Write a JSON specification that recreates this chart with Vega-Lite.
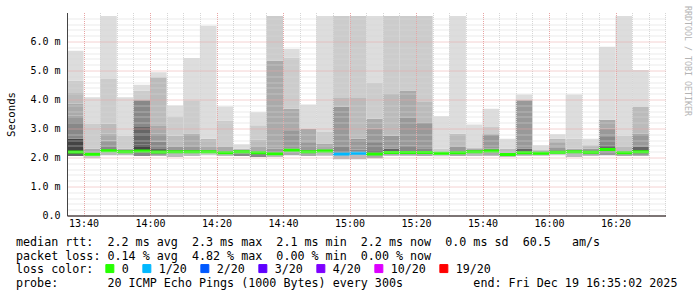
{
  "$schema": "https://vega.github.io/schema/vega-lite/v6.json",
  "width": 598.5,
  "height": 203,
  "autosize": {"type": "none"},
  "padding": {"left": 67, "top": 12.5, "right": 31.5, "bottom": 81.5},
  "background": "white",
  "config": {"view": {"stroke": null}},
  "title": {
    "text": [
      "median\u00a0rtt:\u00a0\u00a02.2\u00a0ms\u00a0avg\u00a0\u00a02.3\u00a0ms\u00a0max\u00a0\u00a02.1\u00a0ms\u00a0min\u00a0\u00a02.2\u00a0ms\u00a0now\u00a0\u00a00.0\u00a0ms\u00a0sd\u00a0\u00a060.5\u00a0\u00a0\u00a0am/s",
      "packet\u00a0loss:\u00a00.14\u00a0%\u00a0avg\u00a0\u00a04.82\u00a0%\u00a0max\u00a0\u00a00.00\u00a0%\u00a0min\u00a0\u00a00.00\u00a0%\u00a0now"
    ],
    "subtitle": "probe:\u00a0\u00a0\u00a0\u00a0\u00a0\u00a0\u00a020\u00a0ICMP\u00a0Echo\u00a0Pings\u00a0(1000\u00a0Bytes)\u00a0every\u00a0300s\u00a0\u00a0\u00a0\u00a0\u00a0\u00a0\u00a0\u00a0\u00a0\u00a0end:\u00a0Fri\u00a0Dec\u00a019\u00a016:35:02\u00a02025",
    "orient": "bottom",
    "anchor": "start",
    "frame": "group",
    "dx": -51,
    "dy": -43,
    "offset": 4,
    "font": "DejaVu Sans Mono",
    "fontSize": 11.7,
    "fontWeight": "normal",
    "lineHeight": 14,
    "color": "#000000",
    "subtitleFont": "DejaVu Sans Mono",
    "subtitleFontSize": 11.7,
    "subtitleFontWeight": "normal",
    "subtitleColor": "#000000",
    "subtitlePadding": 16
  },
  "datasets": {
    "bands": [
      {"t":"2025-12-19T13:35","te":"2025-12-19T13:40","lo":2.05,"hi":2.19,"s":7},
      {"t":"2025-12-19T13:35","te":"2025-12-19T13:40","lo":2.19,"hi":2.65,"s":8},
      {"t":"2025-12-19T13:35","te":"2025-12-19T13:40","lo":2.65,"hi":3.22,"s":6},
      {"t":"2025-12-19T13:35","te":"2025-12-19T13:40","lo":3.22,"hi":3.45,"s":5},
      {"t":"2025-12-19T13:35","te":"2025-12-19T13:40","lo":3.45,"hi":3.85,"s":4},
      {"t":"2025-12-19T13:35","te":"2025-12-19T13:40","lo":3.85,"hi":4.25,"s":3},
      {"t":"2025-12-19T13:35","te":"2025-12-19T13:40","lo":4.25,"hi":4.65,"s":2},
      {"t":"2025-12-19T13:35","te":"2025-12-19T13:40","lo":4.65,"hi":5.68,"s":1},
      {"t":"2025-12-19T13:40","te":"2025-12-19T13:45","lo":1.97,"hi":2.11,"s":2},
      {"t":"2025-12-19T13:40","te":"2025-12-19T13:45","lo":2.11,"hi":2.3,"s":4},
      {"t":"2025-12-19T13:40","te":"2025-12-19T13:45","lo":2.3,"hi":3.17,"s":2},
      {"t":"2025-12-19T13:40","te":"2025-12-19T13:45","lo":3.17,"hi":4.08,"s":1},
      {"t":"2025-12-19T13:45","te":"2025-12-19T13:50","lo":2.08,"hi":2.23,"s":3},
      {"t":"2025-12-19T13:45","te":"2025-12-19T13:50","lo":2.23,"hi":2.36,"s":6},
      {"t":"2025-12-19T13:45","te":"2025-12-19T13:50","lo":2.36,"hi":2.59,"s":5},
      {"t":"2025-12-19T13:45","te":"2025-12-19T13:50","lo":2.59,"hi":2.82,"s":4},
      {"t":"2025-12-19T13:45","te":"2025-12-19T13:50","lo":2.82,"hi":3.17,"s":3},
      {"t":"2025-12-19T13:45","te":"2025-12-19T13:50","lo":3.17,"hi":4.71,"s":2},
      {"t":"2025-12-19T13:45","te":"2025-12-19T13:50","lo":4.71,"hi":6.88,"s":1},
      {"t":"2025-12-19T13:50","te":"2025-12-19T13:55","lo":2.08,"hi":2.2,"s":3},
      {"t":"2025-12-19T13:50","te":"2025-12-19T13:55","lo":2.2,"hi":2.3,"s":4},
      {"t":"2025-12-19T13:50","te":"2025-12-19T13:55","lo":2.3,"hi":2.76,"s":2},
      {"t":"2025-12-19T13:50","te":"2025-12-19T13:55","lo":2.76,"hi":4.08,"s":1},
      {"t":"2025-12-19T13:55","te":"2025-12-19T14:00","lo":2.05,"hi":2.22,"s":6},
      {"t":"2025-12-19T13:55","te":"2025-12-19T14:00","lo":2.22,"hi":2.45,"s":8},
      {"t":"2025-12-19T13:55","te":"2025-12-19T14:00","lo":2.45,"hi":2.82,"s":7},
      {"t":"2025-12-19T13:55","te":"2025-12-19T14:00","lo":2.82,"hi":3.05,"s":7},
      {"t":"2025-12-19T13:55","te":"2025-12-19T14:00","lo":3.05,"hi":3.97,"s":6},
      {"t":"2025-12-19T13:55","te":"2025-12-19T14:00","lo":3.97,"hi":4.31,"s":2},
      {"t":"2025-12-19T13:55","te":"2025-12-19T14:00","lo":4.31,"hi":4.51,"s":1},
      {"t":"2025-12-19T14:00","te":"2025-12-19T14:05","lo":2.06,"hi":2.19,"s":5},
      {"t":"2025-12-19T14:00","te":"2025-12-19T14:05","lo":2.19,"hi":2.32,"s":7},
      {"t":"2025-12-19T14:00","te":"2025-12-19T14:05","lo":2.32,"hi":2.54,"s":6},
      {"t":"2025-12-19T14:00","te":"2025-12-19T14:05","lo":2.54,"hi":2.83,"s":5},
      {"t":"2025-12-19T14:00","te":"2025-12-19T14:05","lo":2.83,"hi":3.11,"s":4},
      {"t":"2025-12-19T14:00","te":"2025-12-19T14:05","lo":3.11,"hi":4.77,"s":3},
      {"t":"2025-12-19T14:00","te":"2025-12-19T14:05","lo":4.77,"hi":4.94,"s":1},
      {"t":"2025-12-19T14:05","te":"2025-12-19T14:10","lo":2.02,"hi":2.2,"s":3},
      {"t":"2025-12-19T14:05","te":"2025-12-19T14:10","lo":2.2,"hi":2.36,"s":5},
      {"t":"2025-12-19T14:05","te":"2025-12-19T14:10","lo":2.36,"hi":2.76,"s":3},
      {"t":"2025-12-19T14:05","te":"2025-12-19T14:10","lo":2.76,"hi":3.42,"s":2},
      {"t":"2025-12-19T14:05","te":"2025-12-19T14:10","lo":3.42,"hi":3.79,"s":1},
      {"t":"2025-12-19T14:10","te":"2025-12-19T14:15","lo":2.05,"hi":2.2,"s":3},
      {"t":"2025-12-19T14:10","te":"2025-12-19T14:15","lo":2.2,"hi":2.36,"s":5},
      {"t":"2025-12-19T14:10","te":"2025-12-19T14:15","lo":2.36,"hi":2.83,"s":4},
      {"t":"2025-12-19T14:10","te":"2025-12-19T14:15","lo":2.83,"hi":3.97,"s":2},
      {"t":"2025-12-19T14:10","te":"2025-12-19T14:15","lo":3.97,"hi":5.43,"s":1},
      {"t":"2025-12-19T14:15","te":"2025-12-19T14:20","lo":2.08,"hi":2.2,"s":2},
      {"t":"2025-12-19T14:15","te":"2025-12-19T14:20","lo":2.2,"hi":2.36,"s":4},
      {"t":"2025-12-19T14:15","te":"2025-12-19T14:20","lo":2.36,"hi":2.65,"s":3},
      {"t":"2025-12-19T14:15","te":"2025-12-19T14:20","lo":2.65,"hi":6.54,"s":1},
      {"t":"2025-12-19T14:20","te":"2025-12-19T14:25","lo":2.05,"hi":2.16,"s":3},
      {"t":"2025-12-19T14:20","te":"2025-12-19T14:25","lo":2.16,"hi":2.36,"s":4},
      {"t":"2025-12-19T14:20","te":"2025-12-19T14:25","lo":2.36,"hi":3.28,"s":2},
      {"t":"2025-12-19T14:20","te":"2025-12-19T14:25","lo":3.28,"hi":3.76,"s":1},
      {"t":"2025-12-19T14:25","te":"2025-12-19T14:30","lo":2.05,"hi":2.15,"s":6},
      {"t":"2025-12-19T14:25","te":"2025-12-19T14:30","lo":2.15,"hi":2.3,"s":3},
      {"t":"2025-12-19T14:25","te":"2025-12-19T14:30","lo":2.3,"hi":2.46,"s":1},
      {"t":"2025-12-19T14:30","te":"2025-12-19T14:35","lo":2.02,"hi":2.16,"s":6},
      {"t":"2025-12-19T14:30","te":"2025-12-19T14:35","lo":2.16,"hi":2.36,"s":4},
      {"t":"2025-12-19T14:30","te":"2025-12-19T14:35","lo":2.36,"hi":2.62,"s":3},
      {"t":"2025-12-19T14:30","te":"2025-12-19T14:35","lo":2.62,"hi":3.11,"s":2},
      {"t":"2025-12-19T14:30","te":"2025-12-19T14:35","lo":3.11,"hi":3.56,"s":1},
      {"t":"2025-12-19T14:35","te":"2025-12-19T14:40","lo":2.02,"hi":2.13,"s":3},
      {"t":"2025-12-19T14:35","te":"2025-12-19T14:40","lo":2.13,"hi":2.3,"s":5},
      {"t":"2025-12-19T14:35","te":"2025-12-19T14:40","lo":2.3,"hi":5.34,"s":4},
      {"t":"2025-12-19T14:35","te":"2025-12-19T14:40","lo":5.34,"hi":6.88,"s":2},
      {"t":"2025-12-19T14:40","te":"2025-12-19T14:45","lo":2.08,"hi":2.25,"s":4},
      {"t":"2025-12-19T14:40","te":"2025-12-19T14:45","lo":2.25,"hi":2.3,"s":6},
      {"t":"2025-12-19T14:40","te":"2025-12-19T14:45","lo":2.3,"hi":2.91,"s":5},
      {"t":"2025-12-19T14:40","te":"2025-12-19T14:45","lo":2.91,"hi":3.68,"s":4},
      {"t":"2025-12-19T14:40","te":"2025-12-19T14:45","lo":3.68,"hi":5.45,"s":2},
      {"t":"2025-12-19T14:40","te":"2025-12-19T14:45","lo":5.45,"hi":5.74,"s":1},
      {"t":"2025-12-19T14:45","te":"2025-12-19T14:50","lo":2.05,"hi":2.2,"s":4},
      {"t":"2025-12-19T14:45","te":"2025-12-19T14:50","lo":2.2,"hi":2.5,"s":5},
      {"t":"2025-12-19T14:45","te":"2025-12-19T14:50","lo":2.5,"hi":2.99,"s":4},
      {"t":"2025-12-19T14:45","te":"2025-12-19T14:50","lo":2.99,"hi":3.83,"s":1},
      {"t":"2025-12-19T14:50","te":"2025-12-19T14:55","lo":2.06,"hi":2.22,"s":3},
      {"t":"2025-12-19T14:50","te":"2025-12-19T14:55","lo":2.22,"hi":2.48,"s":4},
      {"t":"2025-12-19T14:50","te":"2025-12-19T14:55","lo":2.48,"hi":2.88,"s":2},
      {"t":"2025-12-19T14:50","te":"2025-12-19T14:55","lo":2.88,"hi":6.88,"s":1},
      {"t":"2025-12-19T14:55","te":"2025-12-19T15:00","lo":1.94,"hi":2.12,"s":3},
      {"t":"2025-12-19T14:55","te":"2025-12-19T15:00","lo":2.12,"hi":2.36,"s":6},
      {"t":"2025-12-19T14:55","te":"2025-12-19T15:00","lo":2.36,"hi":3.76,"s":5},
      {"t":"2025-12-19T14:55","te":"2025-12-19T15:00","lo":3.76,"hi":4.08,"s":3},
      {"t":"2025-12-19T14:55","te":"2025-12-19T15:00","lo":4.08,"hi":6.88,"s":2},
      {"t":"2025-12-19T15:00","te":"2025-12-19T15:05","lo":1.94,"hi":2.15,"s":3},
      {"t":"2025-12-19T15:00","te":"2025-12-19T15:05","lo":2.15,"hi":2.27,"s":6},
      {"t":"2025-12-19T15:00","te":"2025-12-19T15:05","lo":2.27,"hi":2.65,"s":5},
      {"t":"2025-12-19T15:00","te":"2025-12-19T15:05","lo":2.65,"hi":4.08,"s":3},
      {"t":"2025-12-19T15:00","te":"2025-12-19T15:05","lo":4.08,"hi":6.88,"s":2},
      {"t":"2025-12-19T15:05","te":"2025-12-19T15:10","lo":1.97,"hi":2.12,"s":4},
      {"t":"2025-12-19T15:05","te":"2025-12-19T15:10","lo":2.12,"hi":2.25,"s":7},
      {"t":"2025-12-19T15:05","te":"2025-12-19T15:10","lo":2.25,"hi":2.5,"s":6},
      {"t":"2025-12-19T15:05","te":"2025-12-19T15:10","lo":2.5,"hi":2.99,"s":5},
      {"t":"2025-12-19T15:05","te":"2025-12-19T15:10","lo":2.99,"hi":3.34,"s":4},
      {"t":"2025-12-19T15:05","te":"2025-12-19T15:10","lo":3.34,"hi":4.59,"s":2},
      {"t":"2025-12-19T15:05","te":"2025-12-19T15:10","lo":4.59,"hi":6.88,"s":1},
      {"t":"2025-12-19T15:10","te":"2025-12-19T15:15","lo":2.06,"hi":2.17,"s":4},
      {"t":"2025-12-19T15:10","te":"2025-12-19T15:15","lo":2.17,"hi":2.31,"s":7},
      {"t":"2025-12-19T15:10","te":"2025-12-19T15:15","lo":2.31,"hi":2.76,"s":5},
      {"t":"2025-12-19T15:10","te":"2025-12-19T15:15","lo":2.76,"hi":4.19,"s":3},
      {"t":"2025-12-19T15:10","te":"2025-12-19T15:15","lo":4.19,"hi":6.88,"s":2},
      {"t":"2025-12-19T15:15","te":"2025-12-19T15:20","lo":2.06,"hi":2.17,"s":4},
      {"t":"2025-12-19T15:15","te":"2025-12-19T15:20","lo":2.17,"hi":2.42,"s":6},
      {"t":"2025-12-19T15:15","te":"2025-12-19T15:20","lo":2.42,"hi":3.39,"s":5},
      {"t":"2025-12-19T15:15","te":"2025-12-19T15:20","lo":3.39,"hi":4.31,"s":4},
      {"t":"2025-12-19T15:15","te":"2025-12-19T15:20","lo":4.31,"hi":6.88,"s":2},
      {"t":"2025-12-19T15:20","te":"2025-12-19T15:25","lo":2.05,"hi":2.17,"s":4},
      {"t":"2025-12-19T15:20","te":"2025-12-19T15:25","lo":2.17,"hi":2.32,"s":6},
      {"t":"2025-12-19T15:20","te":"2025-12-19T15:25","lo":2.32,"hi":3.19,"s":5},
      {"t":"2025-12-19T15:20","te":"2025-12-19T15:25","lo":3.19,"hi":3.91,"s":3},
      {"t":"2025-12-19T15:20","te":"2025-12-19T15:25","lo":3.91,"hi":6.88,"s":2},
      {"t":"2025-12-19T15:25","te":"2025-12-19T15:30","lo":2.04,"hi":2.3,"s":2},
      {"t":"2025-12-19T15:25","te":"2025-12-19T15:30","lo":2.3,"hi":3.42,"s":1},
      {"t":"2025-12-19T15:30","te":"2025-12-19T15:35","lo":2.05,"hi":2.16,"s":4},
      {"t":"2025-12-19T15:30","te":"2025-12-19T15:35","lo":2.16,"hi":2.36,"s":5},
      {"t":"2025-12-19T15:30","te":"2025-12-19T15:35","lo":2.36,"hi":2.82,"s":3},
      {"t":"2025-12-19T15:30","te":"2025-12-19T15:35","lo":2.82,"hi":6.88,"s":1},
      {"t":"2025-12-19T15:35","te":"2025-12-19T15:40","lo":2.05,"hi":2.2,"s":3},
      {"t":"2025-12-19T15:35","te":"2025-12-19T15:40","lo":2.2,"hi":2.32,"s":4},
      {"t":"2025-12-19T15:35","te":"2025-12-19T15:40","lo":2.32,"hi":3.14,"s":1},
      {"t":"2025-12-19T15:40","te":"2025-12-19T15:45","lo":2.06,"hi":2.22,"s":4},
      {"t":"2025-12-19T15:40","te":"2025-12-19T15:45","lo":2.22,"hi":2.31,"s":6},
      {"t":"2025-12-19T15:40","te":"2025-12-19T15:45","lo":2.31,"hi":2.8,"s":5},
      {"t":"2025-12-19T15:40","te":"2025-12-19T15:45","lo":2.8,"hi":3.05,"s":2},
      {"t":"2025-12-19T15:40","te":"2025-12-19T15:45","lo":3.05,"hi":3.68,"s":1},
      {"t":"2025-12-19T15:45","te":"2025-12-19T15:50","lo":2.03,"hi":2.1,"s":4},
      {"t":"2025-12-19T15:45","te":"2025-12-19T15:50","lo":2.1,"hi":2.3,"s":3},
      {"t":"2025-12-19T15:45","te":"2025-12-19T15:50","lo":2.3,"hi":2.65,"s":1},
      {"t":"2025-12-19T15:50","te":"2025-12-19T15:55","lo":2.06,"hi":2.16,"s":4},
      {"t":"2025-12-19T15:50","te":"2025-12-19T15:55","lo":2.16,"hi":2.31,"s":7},
      {"t":"2025-12-19T15:50","te":"2025-12-19T15:55","lo":2.31,"hi":3.97,"s":5},
      {"t":"2025-12-19T15:50","te":"2025-12-19T15:55","lo":3.97,"hi":4.17,"s":1},
      {"t":"2025-12-19T15:55","te":"2025-12-19T16:00","lo":2.06,"hi":2.15,"s":3},
      {"t":"2025-12-19T15:55","te":"2025-12-19T16:00","lo":2.15,"hi":2.25,"s":4},
      {"t":"2025-12-19T15:55","te":"2025-12-19T16:00","lo":2.25,"hi":2.42,"s":1},
      {"t":"2025-12-19T16:00","te":"2025-12-19T16:05","lo":2.08,"hi":2.18,"s":2},
      {"t":"2025-12-19T16:00","te":"2025-12-19T16:05","lo":2.18,"hi":2.35,"s":5},
      {"t":"2025-12-19T16:00","te":"2025-12-19T16:05","lo":2.35,"hi":2.5,"s":4},
      {"t":"2025-12-19T16:00","te":"2025-12-19T16:05","lo":2.5,"hi":2.65,"s":3},
      {"t":"2025-12-19T16:00","te":"2025-12-19T16:05","lo":2.65,"hi":2.8,"s":1},
      {"t":"2025-12-19T16:05","te":"2025-12-19T16:10","lo":2.02,"hi":2.2,"s":3},
      {"t":"2025-12-19T16:05","te":"2025-12-19T16:10","lo":2.2,"hi":2.3,"s":4},
      {"t":"2025-12-19T16:05","te":"2025-12-19T16:10","lo":2.3,"hi":2.65,"s":2},
      {"t":"2025-12-19T16:05","te":"2025-12-19T16:10","lo":2.65,"hi":4.17,"s":1},
      {"t":"2025-12-19T16:10","te":"2025-12-19T16:15","lo":2.06,"hi":2.18,"s":4},
      {"t":"2025-12-19T16:10","te":"2025-12-19T16:15","lo":2.18,"hi":2.3,"s":5},
      {"t":"2025-12-19T16:10","te":"2025-12-19T16:15","lo":2.3,"hi":2.42,"s":3},
      {"t":"2025-12-19T16:10","te":"2025-12-19T16:15","lo":2.42,"hi":2.65,"s":1},
      {"t":"2025-12-19T16:15","te":"2025-12-19T16:20","lo":2.08,"hi":2.28,"s":5},
      {"t":"2025-12-19T16:15","te":"2025-12-19T16:20","lo":2.28,"hi":2.42,"s":7},
      {"t":"2025-12-19T16:15","te":"2025-12-19T16:20","lo":2.42,"hi":2.71,"s":6},
      {"t":"2025-12-19T16:15","te":"2025-12-19T16:20","lo":2.71,"hi":2.99,"s":5},
      {"t":"2025-12-19T16:15","te":"2025-12-19T16:20","lo":2.99,"hi":3.3,"s":4},
      {"t":"2025-12-19T16:15","te":"2025-12-19T16:20","lo":3.3,"hi":5.82,"s":1},
      {"t":"2025-12-19T16:20","te":"2025-12-19T16:25","lo":2.05,"hi":2.16,"s":4},
      {"t":"2025-12-19T16:20","te":"2025-12-19T16:25","lo":2.16,"hi":2.36,"s":3},
      {"t":"2025-12-19T16:20","te":"2025-12-19T16:25","lo":2.36,"hi":2.76,"s":2},
      {"t":"2025-12-19T16:20","te":"2025-12-19T16:25","lo":2.76,"hi":6.88,"s":1},
      {"t":"2025-12-19T16:25","te":"2025-12-19T16:30","lo":2.06,"hi":2.2,"s":5},
      {"t":"2025-12-19T16:25","te":"2025-12-19T16:30","lo":2.2,"hi":2.36,"s":7},
      {"t":"2025-12-19T16:25","te":"2025-12-19T16:30","lo":2.36,"hi":2.82,"s":5},
      {"t":"2025-12-19T16:25","te":"2025-12-19T16:30","lo":2.82,"hi":3.74,"s":3},
      {"t":"2025-12-19T16:25","te":"2025-12-19T16:30","lo":3.74,"hi":5.02,"s":1}
    ],
    "med": [
      {"t":"2025-12-19T13:35","te":"2025-12-19T13:40","med":2.19,"loss":"0"},
      {"t":"2025-12-19T13:40","te":"2025-12-19T13:45","med":2.11,"loss":"0"},
      {"t":"2025-12-19T13:45","te":"2025-12-19T13:50","med":2.23,"loss":"0"},
      {"t":"2025-12-19T13:50","te":"2025-12-19T13:55","med":2.2,"loss":"0"},
      {"t":"2025-12-19T13:55","te":"2025-12-19T14:00","med":2.22,"loss":"0"},
      {"t":"2025-12-19T14:00","te":"2025-12-19T14:05","med":2.19,"loss":"0"},
      {"t":"2025-12-19T14:05","te":"2025-12-19T14:10","med":2.2,"loss":"0"},
      {"t":"2025-12-19T14:10","te":"2025-12-19T14:15","med":2.2,"loss":"0"},
      {"t":"2025-12-19T14:15","te":"2025-12-19T14:20","med":2.2,"loss":"0"},
      {"t":"2025-12-19T14:20","te":"2025-12-19T14:25","med":2.16,"loss":"0"},
      {"t":"2025-12-19T14:25","te":"2025-12-19T14:30","med":2.2,"loss":"0"},
      {"t":"2025-12-19T14:30","te":"2025-12-19T14:35","med":2.16,"loss":"0"},
      {"t":"2025-12-19T14:35","te":"2025-12-19T14:40","med":2.13,"loss":"0"},
      {"t":"2025-12-19T14:40","te":"2025-12-19T14:45","med":2.25,"loss":"0"},
      {"t":"2025-12-19T14:45","te":"2025-12-19T14:50","med":2.2,"loss":"0"},
      {"t":"2025-12-19T14:50","te":"2025-12-19T14:55","med":2.22,"loss":"0"},
      {"t":"2025-12-19T14:55","te":"2025-12-19T15:00","med":2.12,"loss":"1/20"},
      {"t":"2025-12-19T15:00","te":"2025-12-19T15:05","med":2.15,"loss":"1/20"},
      {"t":"2025-12-19T15:05","te":"2025-12-19T15:10","med":2.12,"loss":"0"},
      {"t":"2025-12-19T15:10","te":"2025-12-19T15:15","med":2.17,"loss":"0"},
      {"t":"2025-12-19T15:15","te":"2025-12-19T15:20","med":2.17,"loss":"0"},
      {"t":"2025-12-19T15:20","te":"2025-12-19T15:25","med":2.17,"loss":"0"},
      {"t":"2025-12-19T15:25","te":"2025-12-19T15:30","med":2.15,"loss":"0"},
      {"t":"2025-12-19T15:30","te":"2025-12-19T15:35","med":2.16,"loss":"0"},
      {"t":"2025-12-19T15:35","te":"2025-12-19T15:40","med":2.2,"loss":"0"},
      {"t":"2025-12-19T15:40","te":"2025-12-19T15:45","med":2.22,"loss":"0"},
      {"t":"2025-12-19T15:45","te":"2025-12-19T15:50","med":2.1,"loss":"0"},
      {"t":"2025-12-19T15:50","te":"2025-12-19T15:55","med":2.16,"loss":"0"},
      {"t":"2025-12-19T15:55","te":"2025-12-19T16:00","med":2.15,"loss":"0"},
      {"t":"2025-12-19T16:00","te":"2025-12-19T16:05","med":2.18,"loss":"0"},
      {"t":"2025-12-19T16:05","te":"2025-12-19T16:10","med":2.2,"loss":"0"},
      {"t":"2025-12-19T16:10","te":"2025-12-19T16:15","med":2.18,"loss":"0"},
      {"t":"2025-12-19T16:15","te":"2025-12-19T16:20","med":2.28,"loss":"0"},
      {"t":"2025-12-19T16:20","te":"2025-12-19T16:25","med":2.16,"loss":"0"},
      {"t":"2025-12-19T16:25","te":"2025-12-19T16:30","med":2.2,"loss":"0"}
    ]
  },
  "layer": [
    {
      "data": {"name": "bands"},
      "mark": {"type": "rect", "clip": true},
      "encoding": {
        "x": {
          "field": "t", "type": "temporal",
          "scale": {"domain": [
            {"year": 2025, "month": 12, "date": 19, "hours": 13, "minutes": 35, "seconds": 2},
            {"year": 2025, "month": 12, "date": 19, "hours": 16, "minutes": 35, "seconds": 2}
          ]},
          "axis": {
            "tickCount": 100,
            "values": [
              {"year": 2025, "month": 12, "date": 19, "hours": 13, "minutes": 40},
              {"year": 2025, "month": 12, "date": 19, "hours": 13, "minutes": 45},
              {"year": 2025, "month": 12, "date": 19, "hours": 13, "minutes": 50},
              {"year": 2025, "month": 12, "date": 19, "hours": 13, "minutes": 55},
              {"year": 2025, "month": 12, "date": 19, "hours": 14, "minutes": 0},
              {"year": 2025, "month": 12, "date": 19, "hours": 14, "minutes": 5},
              {"year": 2025, "month": 12, "date": 19, "hours": 14, "minutes": 10},
              {"year": 2025, "month": 12, "date": 19, "hours": 14, "minutes": 15},
              {"year": 2025, "month": 12, "date": 19, "hours": 14, "minutes": 20},
              {"year": 2025, "month": 12, "date": 19, "hours": 14, "minutes": 25},
              {"year": 2025, "month": 12, "date": 19, "hours": 14, "minutes": 30},
              {"year": 2025, "month": 12, "date": 19, "hours": 14, "minutes": 35},
              {"year": 2025, "month": 12, "date": 19, "hours": 14, "minutes": 40},
              {"year": 2025, "month": 12, "date": 19, "hours": 14, "minutes": 45},
              {"year": 2025, "month": 12, "date": 19, "hours": 14, "minutes": 50},
              {"year": 2025, "month": 12, "date": 19, "hours": 14, "minutes": 55},
              {"year": 2025, "month": 12, "date": 19, "hours": 15, "minutes": 0},
              {"year": 2025, "month": 12, "date": 19, "hours": 15, "minutes": 5},
              {"year": 2025, "month": 12, "date": 19, "hours": 15, "minutes": 10},
              {"year": 2025, "month": 12, "date": 19, "hours": 15, "minutes": 15},
              {"year": 2025, "month": 12, "date": 19, "hours": 15, "minutes": 20},
              {"year": 2025, "month": 12, "date": 19, "hours": 15, "minutes": 25},
              {"year": 2025, "month": 12, "date": 19, "hours": 15, "minutes": 30},
              {"year": 2025, "month": 12, "date": 19, "hours": 15, "minutes": 35},
              {"year": 2025, "month": 12, "date": 19, "hours": 15, "minutes": 40},
              {"year": 2025, "month": 12, "date": 19, "hours": 15, "minutes": 45},
              {"year": 2025, "month": 12, "date": 19, "hours": 15, "minutes": 50},
              {"year": 2025, "month": 12, "date": 19, "hours": 15, "minutes": 55},
              {"year": 2025, "month": 12, "date": 19, "hours": 16, "minutes": 0},
              {"year": 2025, "month": 12, "date": 19, "hours": 16, "minutes": 5},
              {"year": 2025, "month": 12, "date": 19, "hours": 16, "minutes": 10},
              {"year": 2025, "month": 12, "date": 19, "hours": 16, "minutes": 15},
              {"year": 2025, "month": 12, "date": 19, "hours": 16, "minutes": 20},
              {"year": 2025, "month": 12, "date": 19, "hours": 16, "minutes": 25},
              {"year": 2025, "month": 12, "date": 19, "hours": 16, "minutes": 30},
              {"year": 2025, "month": 12, "date": 19, "hours": 16, "minutes": 35}
            ],
            "labelExpr": "minutes(datum.value) % 20 == 0 ? timeFormat(datum.value, '%H:%M') : ''",
            "labelOverlap": false,
            "labelFlush": false,
            "labelFont": "DejaVu Sans Mono",
            "labelFontSize": 10,
            "labelColor": "#000000",
            "labelPadding": 3,
            "ticks": false,
            "domainColor": "#000000",
            "grid": true,
            "gridDash": [1, 1],
            "gridColor": {"condition": {"test": "minutes(datum.value) % 20 == 0", "value": "#e8a4a4"}, "value": "#d6d6d6"},
            "zindex": 1,
            "title": null
          }
        },
        "x2": {"field": "te"},
        "y": {
          "field": "lo", "type": "quantitative",
          "scale": {"domain": [0, 7], "nice": false},
          "axis": {
            "tickCount": 100,
            "values": [0,0.2,0.4,0.6,0.8,1,1.2,1.4,1.6,1.8,2,2.2,2.4,2.6,2.8,3,3.2,3.4,3.6,3.8,4,4.2,4.4,4.6,4.8,5,5.2,5.4,5.6,5.8,6,6.2,6.4,6.6,6.8],
            "labelExpr": "abs(datum.value - round(datum.value)) < 0.01 && datum.value < 6.5 ? (datum.value == 0 ? '0.0' : format(datum.value, '.1f') + ' m') : ''",
            "labelOverlap": false,
            "labelFont": "DejaVu Sans Mono",
            "labelFontSize": 10,
            "labelColor": "#000000",
            "labelPadding": 7,
            "ticks": false,
            "domainColor": "#444444",
            "grid": true,
            "gridDash": [1, 1],
            "gridColor": {"condition": {"test": "abs(datum.value - round(datum.value)) < 0.01", "value": "#e8a4a4"}, "value": "#d6d6d6"},
            "zindex": 1,
            "title": "Seconds",
            "titleFont": "DejaVu Sans Mono",
            "titleFontSize": 10.7,
            "titleFontWeight": "normal",
            "titleColor": "#000000",
            "titlePadding": 13
          }
        },
        "y2": {"field": "hi"},
        "fill": {
          "field": "s", "type": "ordinal",
          "scale": {"domain": [1,2,3,4,5,6,7,8], "range": ["#dddddd","#cccccc","#bbbbbb","#aaaaaa","#999999","#888888","#666666","#444444"]},
          "legend": null
        }
      }
    },
    {
      "data": {"name": "med"},
      "mark": {"type": "rule", "strokeWidth": 3, "clip": true},
      "encoding": {
        "x": {"field": "t", "type": "temporal"},
        "x2": {"field": "te"},
        "y": {
          "field": "med", "type": "quantitative",
          "axis": {
            "orient": "right",
            "labels": false, "ticks": false, "domain": false, "grid": false,
            "title": "RRDTOOL / TOBI OETIKER",
            "titleAngle": 90,
            "titleFont": "DejaVu Sans Mono",
            "titleFontSize": 8.3,
            "titleFontWeight": "normal",
            "titleColor": "#b4b4b4",
            "titleX": 21,
            "titleY": -7,
            "titleAlign": "left",
            "titleBaseline": "middle"
          }
        },
        "stroke": {
          "field": "loss", "type": "nominal",
          "scale": {"domain": ["0","1/20","2/20","3/20","4/20","10/20","19/20"], "range": ["#26ff00","#00b8ff","#0059ff","#5e00ff","#7e00ff","#dd00ff","#ff0000"]},
          "legend": {
            "orient": "none",
            "legendX": -51,
            "legendY": 250,
            "direction": "horizontal",
            "title": "loss color:",
            "titleOrient": "left",
            "titleFont": "DejaVu Sans Mono",
            "titleFontSize": 11.7,
            "titleFontWeight": "normal",
            "titleColor": "#000000",
            "titlePadding": 10,
            "labelFont": "DejaVu Sans Mono",
            "labelFontSize": 11.7,
            "labelColor": "#000000",
            "labelOffset": 6,
            "columnPadding": 11,
            "symbolType": "square",
            "symbolSize": 64,
            "symbolStrokeWidth": 1,
            "encode": {"symbols": {"update": {"fill": {"scale": "stroke", "field": "value"}, "stroke": {"value": "#000000"}}}}
          }
        }
      }
    }
  ],
  "resolve": {"axis": {"y": "independent"}}
}
